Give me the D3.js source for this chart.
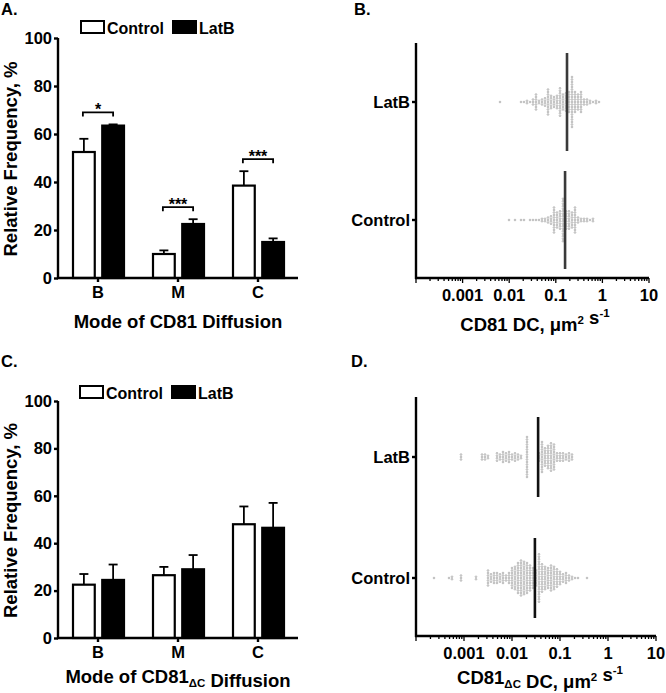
<!DOCTYPE html>
<html><head><meta charset="utf-8">
<script src="https://cdn.jsdelivr.net/npm/d3@7"></script>
<style>
body{margin:0;background:#fff}
svg{display:block}
text{font-family:"Liberation Sans",Arial,Helvetica,sans-serif;font-weight:bold;fill:#000}
</style>
</head><body>
<svg id="c" width="666" height="693"></svg>
<script>
// ---------- data ----------
const categories = ["B","M","C"];
const groups = ["Control","LatB"];
// Panel A (CD81)
const aControl = [52.5, 10, 38.5];
const aControlErr = [5.5, 1.5, 6];
const aLatB = [63.5, 22.5, 15];
const aLatBErr = [0.5, 2, 1.5];
const aSigLabels = ["*","***","***"];
const aSigLevels = [69, 29.5, 49.5];
// Panel C (CD81ΔC)
const cControl = [22.5, 26.5, 48];
const cControlErr = [4.5, 3.5, 7.5];
const cLatB = [24.5, 29, 46.5];
const cLatBErr = [6.5, 6, 10.5];
const yTicks = [0, 20, 40, 60, 80, 100];
// Panels B, D (diffusion coefficients, µm² s⁻¹)
const logTickLabels = [0.001, 0.01, 0.1, 1, 10];
const bLatB = [0.0063,
  0.019,0.022,0.025,0.025,0.028,
  0.031,0.031,0.031,0.035,0.035,0.035,0.035,0.040,0.040,0.040,0.044,0.044,
  0.052,0.052,0.052,0.058,0.058,0.058,0.058,0.065,0.065,0.065,0.065,0.065,
  0.073,0.073,0.073,0.073,0.073,0.073,0.082,0.082,0.082,0.082,0.082,0.082,
  0.092,0.092,0.092,0.092,0.092,0.103,0.103,0.103,0.103,0.103,0.103,
  0.116,0.116,0.116,0.116,0.116,0.116,0.13,0.13,0.13,0.13,0.13,0.13,
  0.146,0.146,0.146,0.146,0.146,0.146,0.146,0.164,0.164,0.164,0.164,0.164,0.164,0.164,0.164,
  0.184,0.184,0.184,0.184,0.184,0.184,0.184,0.184,0.184,
  0.207,0.207,0.207,0.207,0.207,0.207,0.207,0.207,0.207,0.207,
  0.232,0.232,0.232,0.232,0.232,0.232,0.232,0.232,0.232,0.232,0.232,
  0.26,0.26,0.26,0.26,0.26,0.26,0.26,0.26,0.26,0.29,0.29,0.29,0.29,0.29,0.29,0.29,
  0.33,0.33,0.33,0.33,0.33,0.37,0.37,0.37,0.37,0.42,0.42,0.42,0.47,0.47,0.47,0.53,0.53,
  0.6,0.68,0.77,0.9];
const bControl = [0.0093,0.0134,0.019,0.021,0.027,0.032,0.038,0.045,0.053,0.053,0.060,0.060,
  0.068,0.068,0.068,0.076,0.076,0.076,0.076,0.085,0.085,0.085,0.085,0.085,
  0.096,0.096,0.096,0.096,0.096,0.096,0.108,0.108,0.108,0.108,0.108,0.108,0.108,
  0.121,0.121,0.121,0.121,0.121,0.121,0.121,0.121,
  0.136,0.136,0.136,0.136,0.136,0.136,0.136,0.136,0.136,
  0.153,0.153,0.153,0.153,0.153,0.153,0.153,0.153,0.153,
  0.172,0.172,0.172,0.172,0.172,0.172,0.172,0.172,
  0.193,0.193,0.193,0.193,0.193,0.193,0.193,0.193,
  0.217,0.217,0.217,0.217,0.217,0.217,0.217,0.244,0.244,0.244,0.244,0.244,0.244,
  0.274,0.274,0.274,0.274,0.274,0.31,0.31,0.31,0.35,0.35,0.39,0.39,0.44,0.5,0.56,0.63,0.63];
const bMedians = [0.158, 0.174]; // Control, LatB
const dLatB = [0.00082,0.00082,0.00082,0.0024,0.0024,0.0024,0.0027,0.0027,0.0027,0.0031,0.0031,
  0.0050,0.0050,0.0050,0.0050,0.0057,0.0057,0.0057,0.0065,0.0065,0.0065,0.0065,0.0065,
  0.0075,0.0075,0.0075,0.0075,0.0086,0.0086,0.0086,0.0086,0.0086,0.0100,0.0100,0.0100,
  0.0115,0.0115,0.0115,0.0115,0.013,0.013,0.013,0.015,0.015,
  0.0215,0.0215,0.0215,0.0215,0.0215,0.0215,0.0215,0.0215,0.0215,0.0215,0.0215,0.0215,0.0215,0.0215,0.0215,0.0215,0.0215,
  0.036,0.036,0.036,0.036,0.040,0.040,0.040,0.040,0.040,0.040,
  0.045,0.045,0.045,0.045,0.045,0.045,0.045,0.050,0.050,0.050,0.050,0.050,0.050,0.050,0.050,
  0.056,0.056,0.056,0.056,0.056,0.056,0.056,0.056,0.056,0.056,
  0.063,0.063,0.063,0.063,0.063,0.063,0.063,0.063,0.063,0.063,0.063,0.063,
  0.07,0.07,0.07,0.07,0.07,0.07,0.07,0.08,0.08,0.08,0.08,0.09,0.09,0.09,0.09,
  0.105,0.105,0.105,0.105,0.12,0.12,0.12,0.12,0.14,0.14,0.14,0.16,0.16,0.16,0.16,0.18,0.18,0.18];
const dControl = [0.00025,0.0005,0.00055,0.0006,0.0009,0.0009,0.0009,0.0017,0.0019,
  0.0030,0.0030,0.0030,0.0030,0.0030,0.0030,0.0030,0.0037,0.0037,0.0037,0.0037,
  0.0042,0.0042,0.0042,0.0042,0.0042,0.0048,0.0048,0.0048,0.0048,0.0048,
  0.0055,0.0055,0.0055,0.0055,0.0063,0.0063,0.0063,0.0063,0.0063,0.0072,0.0072,0.0072,
  0.0082,0.0082,0.0082,0.0082,0.0082,0.0094,0.0094,0.0094,
  0.0107,0.0107,0.0107,0.0107,0.0107,0.0107,
  0.0122,0.0122,0.0122,0.0122,0.0122,0.0122,0.0122,0.0122,0.0122,0.0122,
  0.0138,0.0138,0.0138,0.0138,0.0138,0.0138,0.0138,0.0138,0.0138,0.0138,0.0138,0.0138,0.0138,
  0.0157,0.0157,0.0157,0.0157,0.0157,0.0157,0.0157,0.0157,0.0157,0.0157,0.0157,0.0157,0.0157,0.0157,0.0157,
  0.0178,0.0178,0.0178,0.0178,0.0178,0.0178,0.0178,0.0178,0.0178,0.0178,0.0178,0.0178,0.0178,0.0178,
  0.020,0.020,0.020,0.020,0.020,0.020,0.020,0.020,0.020,0.020,0.020,0.020,0.020,
  0.023,0.023,0.023,0.023,0.023,0.023,0.023,0.023,0.023,0.023,0.023,
  0.026,0.026,0.026,0.026,0.026,0.026,0.026,0.026,0.026,
  0.030,0.030,0.030,0.030,0.030,0.030,0.030,
  0.034,0.034,0.034,0.034,0.034,0.034,0.034,0.034,0.034,
  0.039,0.039,0.039,0.039,0.039,0.039,0.039,0.039,0.039,0.039,0.039,
  0.044,0.044,0.044,0.044,0.044,0.044,0.044,0.044,0.044,0.044,0.044,0.044,
  0.050,0.050,0.050,0.050,0.050,0.050,0.050,0.050,0.050,0.050,
  0.057,0.057,0.057,0.057,0.057,0.057,0.057,0.057,0.057,
  0.065,0.065,0.065,0.065,0.065,0.065,0.065,0.065,0.065,0.065,0.065,
  0.074,0.074,0.074,0.074,0.074,0.074,0.074,0.074,0.074,0.074,
  0.084,0.084,0.084,0.084,0.084,0.084,0.084,0.084,
  0.096,0.096,0.096,0.096,0.096,0.096,0.11,0.11,0.11,0.11,0.125,0.125,0.125,
  0.14,0.14,0.16,0.16,0.16,0.18,0.18,0.21,0.24,0.35];
const dMedians = [0.030, 0.035]; // Control, LatB

// ---------- drawing ----------
const svg = d3.select("#c");
const AX = 2.4;
const tickFont = 16.5, titleFont = 18.5;

function label(t, x, y) {
  svg.append("text").attr("x", x).attr("y", y).attr("font-size", 16.5).text(t);
}

function barPanel(o) {
  const g = svg.append("g");
  const x = d3.scaleBand().domain(categories).range([o.x0, o.x1]);
  const xi = d3.scaleBand().domain(groups).range([15, 66]).paddingInner(0.256).paddingOuter(0);
  const y = d3.scaleLinear().domain([0, 100]).range([o.yb, o.yt]);
  const series = [
    {key:"Control", vals:o.ctrl, errs:o.ctrlErr, fill:"#fff"},
    {key:"LatB", vals:o.latb, errs:o.latbErr, fill:"#000"}
  ];
  series.forEach(s => {
    categories.forEach((c, i) => {
      const bx = x(c) + xi(s.key), bw = xi.bandwidth();
      const cx = bx + bw / 2;
      g.append("line").attr("x1", cx).attr("x2", cx)
        .attr("y1", y(s.vals[i])).attr("y2", y(s.vals[i] + s.errs[i]))
        .attr("stroke", "#000").attr("stroke-width", 1.8);
      g.append("line").attr("x1", cx - 4.5).attr("x2", cx + 4.5)
        .attr("y1", y(s.vals[i] + s.errs[i])).attr("y2", y(s.vals[i] + s.errs[i]))
        .attr("stroke", "#000").attr("stroke-width", 1.8);
      g.append("rect").attr("x", bx).attr("y", y(s.vals[i]))
        .attr("width", bw).attr("height", y(0) - y(s.vals[i]))
        .attr("fill", s.fill).attr("stroke", "#000").attr("stroke-width", 2.2);
    });
  });
  if (o.sig) {
    categories.forEach((c, i) => {
      const xa = x(c) + xi("Control") + xi.bandwidth() / 2 - 1;
      const xb = x(c) + xi("LatB") + xi.bandwidth() / 2;
      const yy = y(o.sigLevels[i]);
      g.append("path").attr("d", `M${xa},${yy + 4}V${yy}H${xb}V${yy + 4}`)
        .attr("fill", "none").attr("stroke", "#000").attr("stroke-width", 1.8);
      g.append("text").attr("x", (xa + xb) / 2).attr("y", yy + 3)
        .attr("text-anchor", "middle").attr("font-size", 16).text(o.sig[i]);
    });
  }
  const ya = g.append("g").attr("transform", `translate(${o.x0},0)`)
    .call(d3.axisLeft(y).tickValues(yTicks).tickSize(4).tickPadding(2));
  ya.select(".domain").attr("stroke-width", AX).attr("d", `M0,${o.yb}V${o.yt}`);
  ya.selectAll(".tick line").attr("stroke-width", AX);
  ya.selectAll(".tick text").attr("font-size", tickFont).attr("font-family", null);
  const xa = g.append("g").attr("transform", `translate(0,${o.yb})`)
    .call(d3.axisBottom(x).tickSize(4).tickPadding(4));
  xa.select(".domain").attr("stroke-width", AX).attr("d", `M${o.x0 - 1},0H${o.x1}`);
  xa.selectAll(".tick line").attr("stroke-width", AX);
  xa.selectAll(".tick text").attr("font-size", tickFont).attr("font-family", null);
  g.append("text").attr("transform", `translate(17,${(o.yb + o.yt) / 2 + 1}) rotate(-90)`)
    .attr("text-anchor", "middle").attr("font-size", titleFont).text("Relative Frequency, %");
  const t = g.append("text").attr("x", (o.x0 + o.x1) / 2).attr("y", o.titleY)
    .attr("text-anchor", "middle").attr("font-size", titleFont);
  o.xTitle(t);
  const lg = g.append("g");
  lg.append("rect").attr("x", o.legX).attr("y", o.legY).attr("width", 23).attr("height", 12)
    .attr("fill", "#fff").attr("stroke", "#000").attr("stroke-width", 2);
  lg.append("text").attr("x", o.legX + 26).attr("y", o.legY + 12.5).attr("font-size", 16).text("Control");
  lg.append("rect").attr("x", o.legX + 92).attr("y", o.legY).attr("width", 23).attr("height", 12)
    .attr("fill", "#000").attr("stroke", "#000").attr("stroke-width", 2);
  lg.append("text").attr("x", o.legX + 118).attr("y", o.legY + 12.5).attr("font-size", 16).text("LatB");
}

function swarmPanel(o) {
  const g = svg.append("g");
  const x = d3.scaleLog().domain([1e-4, 10]).range([o.x0, o.x1]);
  const y = d3.scalePoint().domain(["LatB", "Control"]).range([o.yLatB, o.yCtrl]);
  const binW = 3.0, dy = 2.5;
  function swarm(values, yc) {
    const bins = d3.group(values, v => Math.round((x(v) - o.x0) / binW));
    const pts = [];
    for (const [k, arr] of bins) {
      const cx = o.x0 + k * binW;
      arr.forEach((v, i) => pts.push({x: cx, y: yc + (i - (arr.length - 1) / 2) * dy}));
    }
    return pts;
  }
  [["Control", o.ctrl], ["LatB", o.latb]].forEach(([k, vals]) => {
    g.append("g").selectAll("circle").data(swarm(vals, y(k))).join("circle")
      .attr("cx", d => d.x).attr("cy", d => d.y).attr("r", 0.85)
      .attr("fill", "#fff").attr("stroke", "#8e8e8e").attr("stroke-width", 0.6);
  });
  groups.forEach((k, i) => {
    g.append("line").attr("x1", x(o.medians[i])).attr("x2", x(o.medians[i]))
      .attr("y1", y(k) - o.medHalf).attr("y2", y(k) + o.medHalf)
      .attr("stroke", o.medColor).attr("stroke-width", 2.6);
  });
  const allTicks = x.ticks();
  const xa = g.append("g");
  xa.append("line").attr("x1", o.x0 - 1).attr("x2", o.x1).attr("y1", o.yb).attr("y2", o.yb)
    .attr("stroke", "#000").attr("stroke-width", AX);
  xa.selectAll("line.t").data(allTicks).join("line").attr("class", "t")
    .attr("x1", d => x(d)).attr("x2", d => x(d)).attr("y1", o.yb)
    .attr("y2", d => o.yb + (Math.abs(Math.log10(d) - Math.round(Math.log10(d))) < 1e-9 ? 5 : 3))
    .attr("stroke", "#000").attr("stroke-width", 1.3);
  xa.selectAll("text").data(logTickLabels).join("text")
    .attr("x", d => x(d)).attr("y", o.yb + 23).attr("text-anchor", "middle")
    .attr("font-size", tickFont).text(d => String(d));
  const ya = g.append("g");
  ya.append("line").attr("x1", o.x0).attr("x2", o.x0).attr("y1", o.yb + 1).attr("y2", o.yt)
    .attr("stroke", "#000").attr("stroke-width", AX);
  y.domain().forEach(k => {
    ya.append("line").attr("x1", o.x0 - 4).attr("x2", o.x0).attr("y1", y(k)).attr("y2", y(k))
      .attr("stroke", "#000").attr("stroke-width", AX);
    ya.append("text").attr("x", o.x0 - 6).attr("y", y(k) + 6).attr("text-anchor", "end")
      .attr("font-size", tickFont).text(k);
  });
  const t = g.append("text").attr("x", o.titleX).attr("y", o.titleY)
    .attr("text-anchor", "middle").attr("font-size", titleFont);
  o.xTitle(t);
}

function sub(t, s) { t.append("tspan").attr("font-size", 11.5).attr("dy", 4).text(s); t.append("tspan").attr("dy", -4).text(""); }
function sup(t, s) { t.append("tspan").attr("font-size", 11.5).attr("dy", -7).text(s); t.append("tspan").attr("dy", 7).text(""); }

label("A.", 1, 15);
label("B.", 354, 15);
label("C.", 1, 367);
label("D.", 351, 367);

barPanel({x0: 58, x1: 298, yb: 278, yt: 38, ctrl: aControl, ctrlErr: aControlErr,
  latb: aLatB, latbErr: aLatBErr, sig: aSigLabels, sigLevels: aSigLevels,
  legX: 81, legY: 21, titleY: 328,
  xTitle: t => t.text("Mode of CD81 Diffusion")});

barPanel({x0: 58, x1: 298, yb: 638, yt: 401, ctrl: cControl, ctrlErr: cControlErr,
  latb: cLatB, latbErr: cLatBErr, sig: null, legX: 80, legY: 386, titleY: 683,
  xTitle: t => { t.append("tspan").text("Mode of CD81"); sub(t, "ΔC"); t.append("tspan").text(" Diffusion"); }});

swarmPanel({x0: 416, x1: 649, yb: 278, yt: 43, yLatB: 102, yCtrl: 220,
  ctrl: bControl, latb: bLatB, medians: bMedians, medHalf: 49, medColor: "#3a3a3a",
  titleX: 535, titleY: 331,
  xTitle: t => { t.append("tspan").text("CD81 DC, μm"); sup(t, "2"); t.append("tspan").text(" s"); sup(t, "-1"); }});

swarmPanel({x0: 416, x1: 656, yb: 636, yt: 397, yLatB: 457, yCtrl: 578,
  ctrl: dControl, latb: dLatB, medians: dMedians, medHalf: 40, medColor: "#111",
  titleX: 540, titleY: 684,
  xTitle: t => { t.append("tspan").text("CD81"); sub(t, "ΔC"); t.append("tspan").text(" DC, μm"); sup(t, "2"); t.append("tspan").text(" s"); sup(t, "-1"); }});
</script>
</body></html>
